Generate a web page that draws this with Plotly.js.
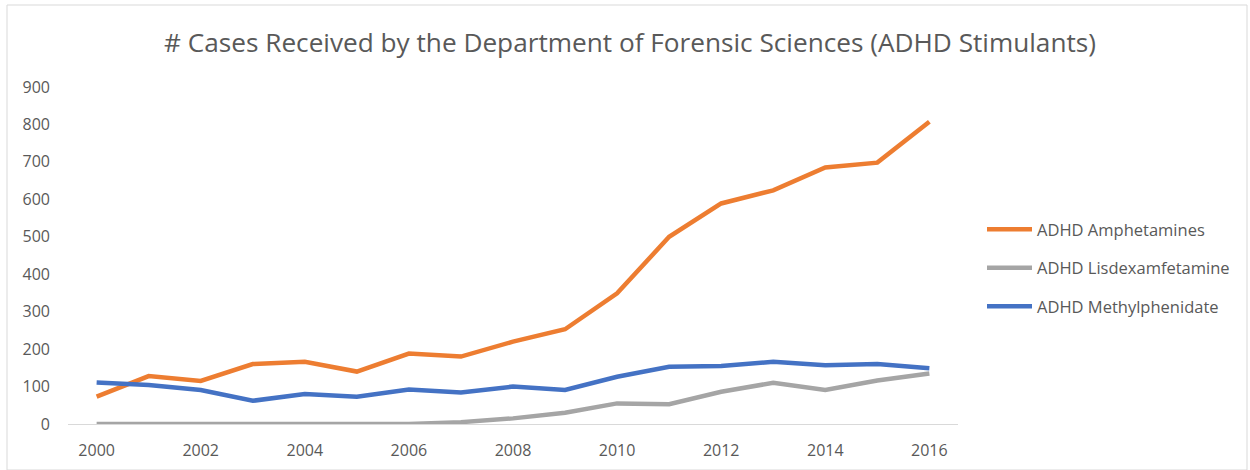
<!DOCTYPE html>
<html>
<head>
<meta charset="utf-8">
<script src="https://cdn.plot.ly/plotly-3.0.1.min.js"></script>
<style>
  html, body { margin: 0; padding: 0; background: #fff; }
  #chart { width: 1250px; height: 470px; }
</style>
</head>
<body>
<div id="chart"></div>
<script>
const years = [2000, 2001, 2002, 2003, 2004, 2005, 2006, 2007, 2008, 2009, 2010, 2011, 2012, 2013, 2014, 2015, 2016];
const amphetamines = [73, 128, 115, 160, 166, 140, 188, 180, 220, 253, 349, 500, 589, 624, 685, 698, 807];
const lisdexamfetamine = [0, 0, 0, 0, 0, 0, 0, 5, 15, 30, 55, 53, 86, 110, 91, 116, 135];
const methylphenidate = [111, 104, 91, 62, 80, 73, 92, 84, 100, 91, 126, 153, 155, 166, 157, 160, 149];
const seriesNames = ['ADHD Amphetamines', 'ADHD Lisdexamfetamine', 'ADHD Methylphenidate'];
const seriesColors = ['#ED7D31', '#A5A5A5', '#4472C4'];
const chartTitle = '# Cases Received by the Department of Forensic Sciences (ADHD Stimulants)';

const font = '"Open Sans", sans-serif';
const txt = '#595959';
const allSeries = [amphetamines, lisdexamfetamine, methylphenidate];

const traces = allSeries.map((vals, i) => ({
  type: 'scatter',
  mode: 'lines',
  x: years,
  y: vals,
  name: seriesNames[i],
  legendgroup: 'g' + i,
  line: { color: seriesColors[i], width: 4.5 },
  hoverinfo: 'x+y+name'
}));

const layout = {
  width: 1250,
  height: 470,
  margin: { l: 68, r: 292, t: 87, b: 46 },
  paper_bgcolor: '#ffffff',
  plot_bgcolor: '#ffffff',
  font: { family: font, color: txt, size: 16 },
  title: {
    text: chartTitle,
    font: { family: font, size: 26.2, color: txt },
    x: 630 / 1250,
    xanchor: 'center',
    xref: 'container',
    y: 1 - 43 / 470,
    yanchor: 'middle',
    yref: 'container'
  },
  xaxis: {
    range: [1999.45, 2016.55],
    tick0: 2000,
    dtick: 2,
    showgrid: false,
    zeroline: false,
    showline: true,
    linecolor: '#D9D9D9',
    linewidth: 1,
    ticks: '',
    ticklabelstandoff: 12,
    tickfont: { family: font, size: 16, color: txt },
    fixedrange: true
  },
  yaxis: {
    range: [0, 900],
    dtick: 100,
    showgrid: false,
    zeroline: false,
    showline: false,
    ticks: '',
    ticklabelstandoff: 17,
    tickfont: { family: font, size: 16, color: txt },
    fixedrange: true
  },
  showlegend: true,
  legend: {
    x: (982 - 68) / 890,
    xanchor: 'left',
    y: (424 - 268) / 337,
    yanchor: 'middle',
    font: { family: font, size: 16.5, color: txt },
    tracegroupgap: 14,
    itemwidth: 45,
    bgcolor: 'rgba(0,0,0,0)'
  },
  shapes: [{
    type: 'rect',
    xref: 'paper', yref: 'paper',
    x0: (7 - 68) / 890, x1: (1247 - 68) / 890,
    y0: (424 - 470) / 337, y1: (424 - 5) / 337,
    line: { color: '#D9D9D9', width: 1 },
    fillcolor: 'rgba(0,0,0,0)',
    layer: 'below'
  }]
};

Plotly.newPlot('chart', traces, layout, { displayModeBar: false });
</script>
</body>
</html>
